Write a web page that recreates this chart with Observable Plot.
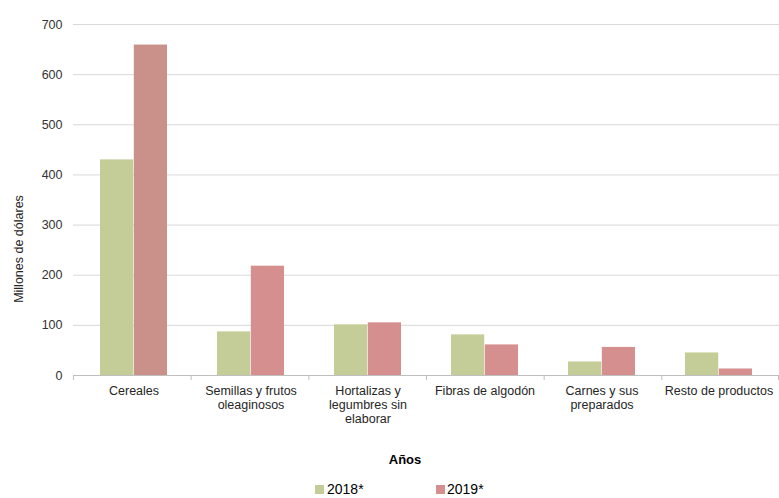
<!DOCTYPE html>
<html>
<head>
<meta charset="utf-8">
<script src="https://cdn.jsdelivr.net/npm/d3@7"></script>
<script src="https://cdn.jsdelivr.net/npm/@observablehq/plot@0.6"></script>
<style>
  html, body { margin: 0; padding: 0; background: #fff; }
  #wrap { position: relative; width: 779px; height: 498px; overflow: hidden; font-family: "Liberation Sans", Arial, sans-serif; }
  #chart { position: absolute; left: 0; top: 0; }
  #xtitle { position: absolute; left: 355px; width: 100px; top: 452px; text-align: center; font-weight: bold; font-size: 13px; line-height: 15px; color: #000; }
  .leg { position: absolute; top: 483px; font-size: 14px; line-height: 12px; color: #000; white-space: nowrap; }
  .sw { position: absolute; top: 485px; width: 9px; height: 9px; }
</style>
</head>
<body>
<div id="wrap">
  <div id="chart"></div>
  <div id="xtitle"></div>
  <div id="legend"></div>
</div>
<script>
const categories = ["Cereales", "Semillas y frutos oleaginosos", "Hortalizas y legumbres sin elaborar", "Fibras de algodón", "Carnes y sus preparados", "Resto de productos"];
const tickLabels = ["Cereales", "Semillas y frutos\noleaginosos", "Hortalizas y\nlegumbres sin\nelaborar", "Fibras de algodón", "Carnes y sus\npreparados", "Resto de productos"];
const years = ["2018*", "2019*"];
const values2018 = [430, 87, 101, 81, 27, 45];
const values2019 = [659, 218, 105, 61, 56, 13];
const yTicks = [0, 100, 200, 300, 400, 500, 600, 700];
const yLabel = "Millones de dólares";
const xTitle = "Años";

const colors = {"2018*": "#c4cd97", "2019*": "#d48f8e"};
const highlight2019 = "#c9918a";

const data = [];
categories.forEach((c, i) => {
  data.push({category: c, year: years[0], value: values2018[i]});
  data.push({category: c, year: years[1], value: values2019[i]});
});

const boundaryTicks = (index, scales, values, dimensions) => {
  const {marginLeft, marginRight, marginBottom, width, height} = dimensions;
  const step = (width - marginLeft - marginRight) / categories.length;
  const g = d3.create("svg:g").attr("stroke", "#bfbfbf");
  for (let i = 0; i <= categories.length; i++) {
    const x = Math.min(marginLeft + i * step, width - 1) + 0.5;
    g.append("line").attr("x1", x).attr("x2", x)
      .attr("y1", height - marginBottom).attr("y2", height - marginBottom + 5);
  }
  return g.node();
};

const plot = Plot.plot({
  width: 779,
  height: 440,
  marginTop: 24,
  marginBottom: 65,
  marginLeft: 73,
  marginRight: 0,
  style: {fontFamily: "'Liberation Sans', Arial, sans-serif", background: "#fff", color: "#333"},
  x: {domain: categories, padding: 0},
  y: {domain: [0, 700]},
  marks: [
    Plot.gridY(yTicks, {stroke: "#d9d9d9", strokeOpacity: 1}),
    Plot.barY(data.filter(d => d.year === years[0]), {
      x: "category", y: "value", fill: colors[years[0]], insetLeft: 25, insetRight: 58.8
    }),
    Plot.barY(data.filter(d => d.year === years[1]), {
      x: "category", y: "value",
      fill: d => d.category === "Cereales" ? highlight2019 : colors[years[1]],
      insetLeft: 58.8, insetRight: 25
    }),
    Plot.ruleY([0], {stroke: "#bfbfbf"}),
    boundaryTicks,
    Plot.axisY(yTicks, {tickSize: 0, tickPadding: 11, fontSize: 12.5, fill: "#333", label: null}),
    Plot.axisX({
      tickSize: 0, tickPadding: 10, fontSize: 12.5, fill: "#262626", lineHeight: 1.12, label: null,
      tickFormat: d => tickLabels[categories.indexOf(d)]
    }),
    Plot.text([yLabel], {frameAnchor: "left", textAnchor: "middle", rotate: -90, dx: -55, dy: 49, fontSize: 12.5, fill: "#262626"})
  ]
});
document.getElementById("chart").appendChild(plot);
document.getElementById("xtitle").textContent = xTitle;

const legend = document.getElementById("legend");
const legPos = [{sw: 315, tx: 327}, {sw: 436, tx: 447}];
years.forEach((y, i) => {
  const sw = document.createElement("div");
  sw.className = "sw";
  sw.style.left = legPos[i].sw + "px";
  sw.style.background = colors[y];
  legend.appendChild(sw);
  const t = document.createElement("div");
  t.className = "leg";
  t.style.left = legPos[i].tx + "px";
  t.textContent = y;
  legend.appendChild(t);
});
</script>
</body>
</html>
